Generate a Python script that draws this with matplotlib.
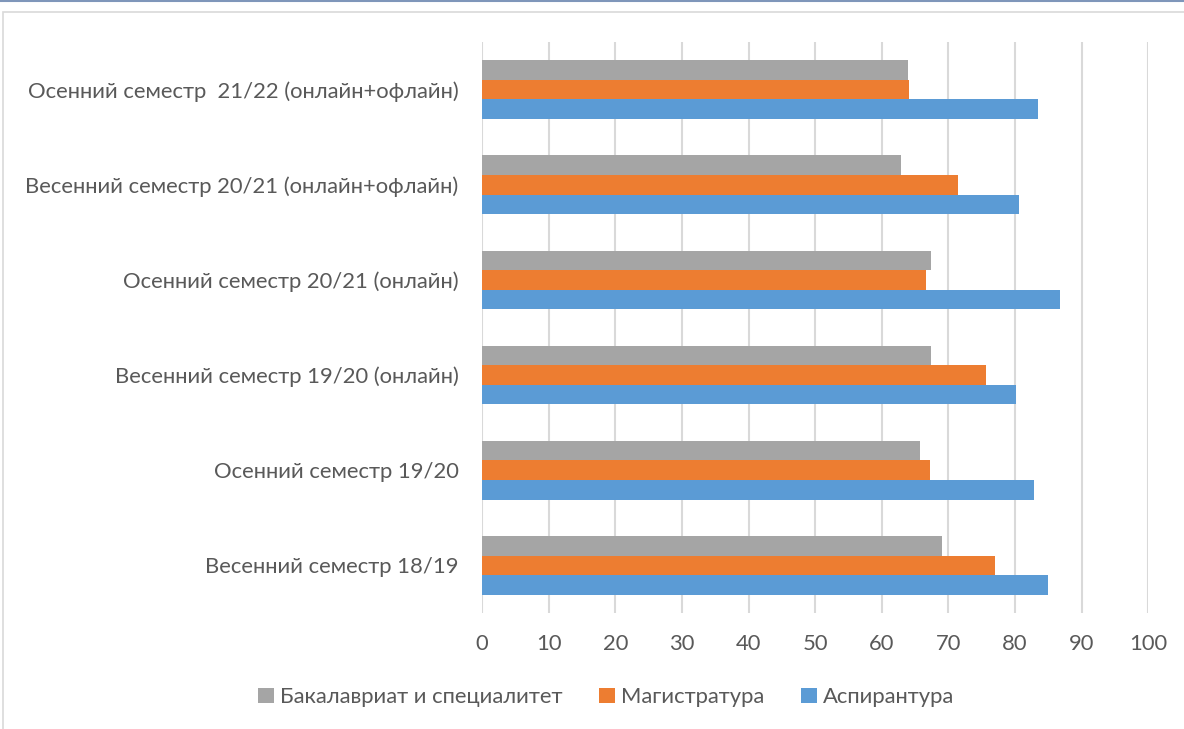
import matplotlib
matplotlib.use("Agg")
import matplotlib.pyplot as plt
from matplotlib.patches import Rectangle, Patch
from matplotlib.lines import Line2D
import numpy as np

categories = [
    "Весенний семестр 18/19",
    "Осенний семестр 19/20",
    "Весенний семестр 19/20 (онлайн)",
    "Осенний семестр 20/21 (онлайн)",
    "Весенний семестр 20/21 (онлайн+офлайн)",
    "Осенний семестр  21/22 (онлайн+офлайн)",
]
bachelor = [69.1, 65.8, 67.4, 67.4, 62.9, 64.0]
master = [77.0, 67.2, 75.6, 66.7, 71.4, 64.1]
phd = [84.9, 82.8, 80.2, 86.7, 80.6, 83.5]
series_names = ["Бакалавриат и специалитет", "Магистратура", "Аспирантура"]
colors = ["#A5A5A5", "#ED7D31", "#5B9BD5"]
xticks = list(range(0, 101, 10))

plt.rcParams['font.family'] = ['Lato', 'DejaVu Sans']
W, H = 1184, 729
fig = plt.figure(figsize=(W / 100, H / 100), dpi=100)

# outer frame
fig.add_artist(Rectangle((3 / W, -0.1), 2, (H - 12) / H + 0.1, transform=fig.transFigure,
                         fill=False, edgecolor="#D9D9D9", linewidth=1.2))
fig.add_artist(Line2D([0, 1], [1 - 1 / H, 1 - 1 / H], transform=fig.transFigure,
                      color="#7F96BA", linewidth=1.5))

ax = fig.add_axes([482 / W, 116 / H, (1148.3 - 482) / W, 571 / H])
y = np.arange(len(categories))
bh = 0.205
for vals, off, c in zip([bachelor, master, phd], [bh, 0, -bh], colors):
    ax.barh(y + off, vals, height=bh, color=c, zorder=3)

ax.set_xlim(0, 100)
ax.set_ylim(-0.5, len(categories) - 0.5)
ax.set_xticks(xticks)
ax.set_yticks(y)
ax.set_yticklabels(categories)
ax.grid(axis='x', color="#D9D9D9", linewidth=1.5, zorder=0)
for s in ax.spines.values():
    s.set_visible(False)
ax.tick_params(axis='both', length=0, labelsize=15.8, labelcolor="#595959")
ax.tick_params(axis='x', pad=15)
ax.tick_params(axis='y', pad=17)

handles = [Patch(facecolor=c) for c in colors]
fig.legend(handles, series_names, loc='center', bbox_to_anchor=(606 / W, 1 - 697 / H),
           ncol=3, frameon=False, fontsize=15.8, labelcolor="#595959",
           handlelength=0.72, handleheight=0.72, handletextpad=0.25, columnspacing=1.7)

fig.savefig("out.png", dpi=100)
